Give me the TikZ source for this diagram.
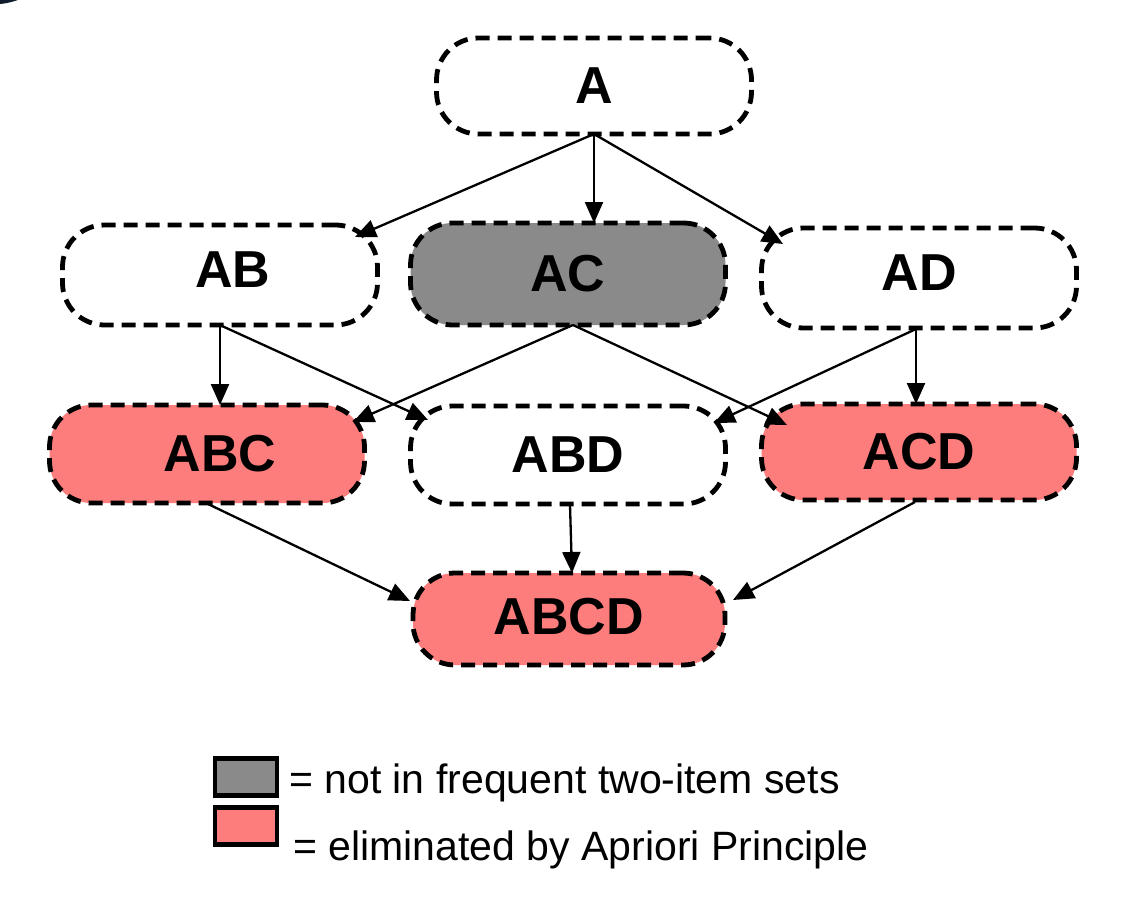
\documentclass[tikz,border=0pt]{standalone}
\usepackage{fontspec}
\setmainfont{Liberation Sans}
\usetikzlibrary{arrows.meta,calc}
\definecolor{pinkfill}{RGB}{253,125,125}
\definecolor{grayfill}{RGB}{138,138,138}
\definecolor{navyblot}{RGB}{14,28,45}
\begin{document}
\begin{tikzpicture}[x=1pt,y=-1pt,
  setbox/.style={draw=black, line width=4.8pt, dash pattern=on 14pt off 8pt,
    rounded corners=42pt, minimum width=315pt, minimum height=99pt, inner sep=0pt,
    font=\fontsize{52}{58}\selectfont\bfseries, text=black},
  link/.style={line width=2.3pt, -{Triangle[length=21pt,width=18pt]}},
  legbox/.style={draw=black, line width=4.5pt, minimum width=62pt, minimum height=37pt, inner sep=0pt},
  legtext/.style={font=\fontsize{41}{47}\selectfont, anchor=base west, inner sep=0pt}]
\fill[white] (0,0) rectangle (1142,912);
\useasboundingbox (0,0) rectangle (1142,912);
\fill[navyblot] (0,0) -- (18,0) .. controls (12,2) and (6,3.5) .. (0,4) -- cycle;

\node[setbox, minimum height=96pt] (A) at (594,86) {A};
\node[setbox, minimum height=100pt] (AB) at (220,275) {\hspace*{26pt}\raisebox{10pt}{AB}};
\node[setbox, fill=grayfill, minimum height=102pt] (AC) at (568,274) {AC};
\node[setbox, minimum height=100pt] (AD) at (919,278) {\raisebox{10pt}{AD}};
\node[setbox, fill=pinkfill, minimum height=98pt] (ABC) at (207,454) {\hspace*{26pt}ABC};
\node[setbox, minimum height=98pt] (ABD) at (568,455) {ABD};
\node[setbox, fill=pinkfill, minimum height=96pt] (ACD) at (919,452) {ACD};
\node[setbox, fill=pinkfill, minimum width=312pt, minimum height=92pt] (ABCD) at (569,619) {\raisebox{5pt}{ABCD}};

\draw[link] ($(A.center)+(0,48)$) -- ($(AB.center)+(135,-38)$);
\draw[link] ($(A.center)+(0,48)$) -- ($(AC.center)+(26,-51)$);
\draw[link] ($(A.center)+(0,48)$) -- ($(AD.center)+(-136,-34)$);
\draw[link] ($(AB.center)+(0,52)$) -- ($(ABC.center)+(13,-49)$);
\draw[link] ($(AB.center)+(2,51)$) -- ($(ABD.center)+(-140,-35)$);
\draw[link] ($(AC.center)+(5,51)$) -- ($(ABC.center)+(146,-32)$);
\draw[link] ($(AC.center)+(5,51)$) -- ($(ACD.center)+(-132,-27)$);
\draw[link] ($(AD.center)+(-3,51)$) -- ($(ABD.center)+(146,-32)$);
\draw[link] ($(AD.center)+(-3,51)$) -- ($(ACD.center)+(-3,-48)$);
\draw[link] ($(ABC.center)+(1,50)$) -- ($(ABCD.center)+(-159,-18)$);
\draw[link] ($(ABD.center)+(2,50)$) -- ($(ABCD.center)+(3,-46)$);
\draw[link] ($(ACD.center)+(-4,50)$) -- ($(ABCD.center)+(164,-19)$);

\node[legbox, fill=grayfill] (L1) at (246,777) {};
\node[legbox, fill=pinkfill] (L2) at (246,826) {};
\node[legtext] (T1) at (289,793) {= not in frequent two-item sets};
\node[legtext] (T2) at (293,860) {= eliminated by Apriori Principle};
\end{tikzpicture}
\end{document}
